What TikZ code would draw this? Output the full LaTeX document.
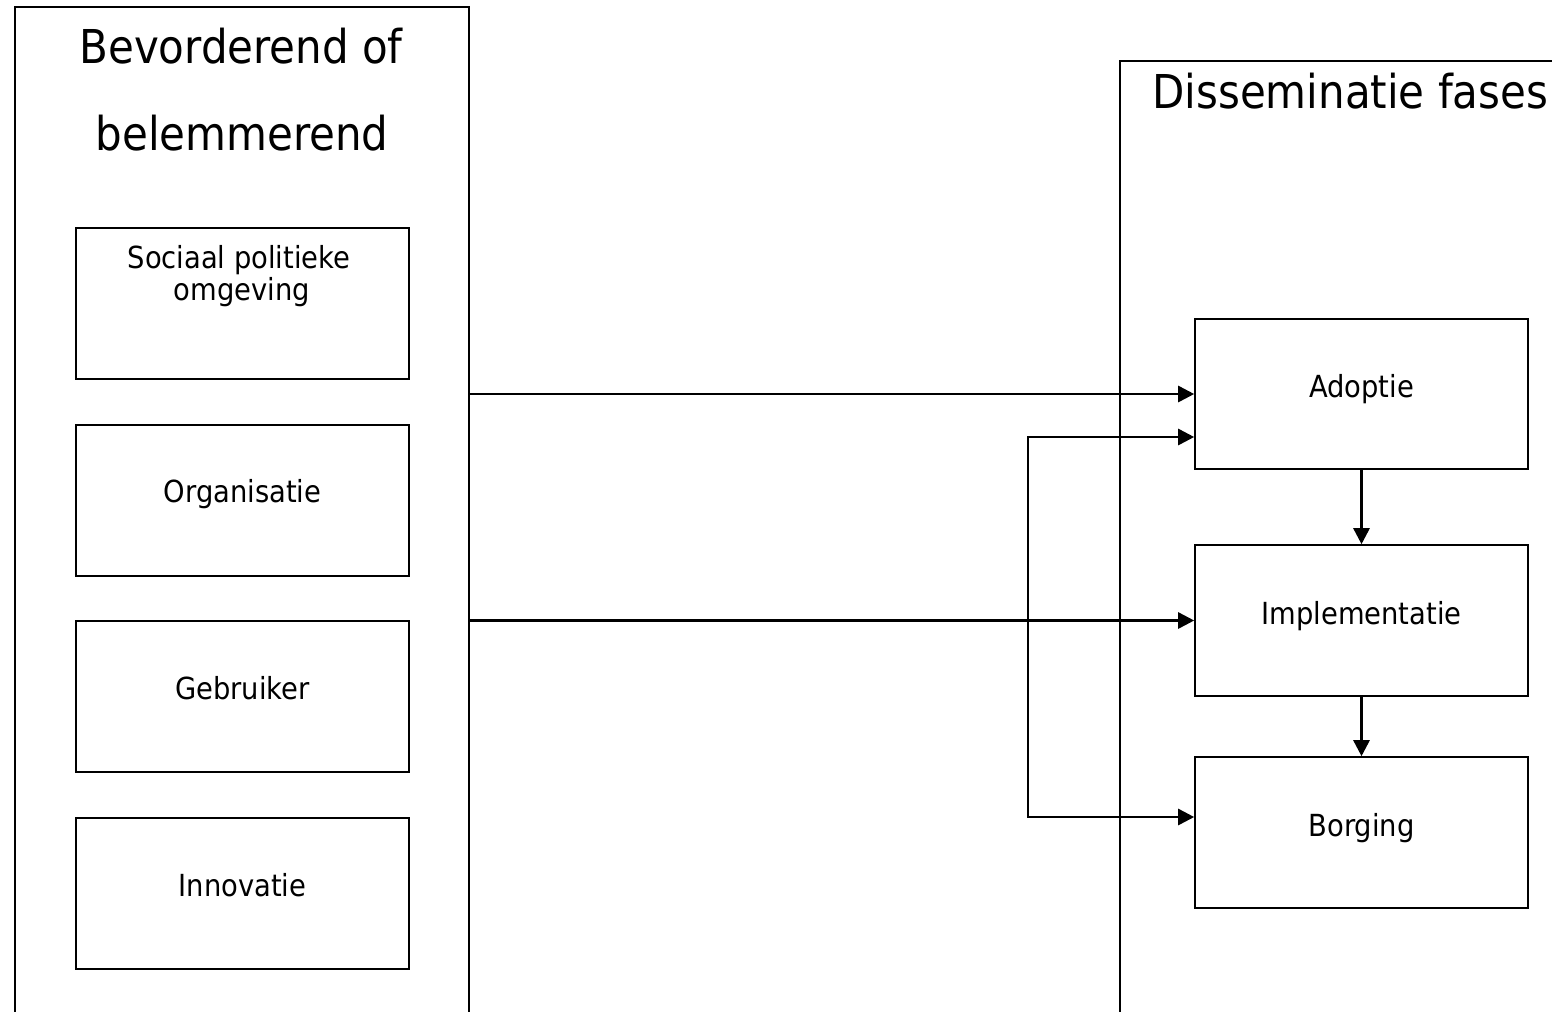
\documentclass[tikz,border=0pt]{standalone}
\usepackage{fontspec}
\setmainfont{DejaVu Sans Condensed}
\usetikzlibrary{arrows.meta}
\begin{document}
\begin{tikzpicture}[x=0.75pt,y=-0.75pt,
  outer/.style={draw, rectangle, line width=1pt, inner sep=0pt},
  box/.style={draw, rectangle, line width=1.2pt, minimum width=249.75pt, minimum height=113.25pt, inner sep=0pt},
  small/.style={font=\fontsize{22.8}{27}\selectfont, anchor=base, inner sep=0pt},
  big/.style={font=\fontsize{35}{42}\selectfont, anchor=base, inner sep=0pt},
  tip/.tip={Triangle[length=12pt,width=12pt]},
  arr/.style={-tip, line width=2pt}]
\useasboundingbox (0,0) rectangle (1552,1011);
\clip (0,0) rectangle (1552,1011);
% outer frames (open beyond the picture edges)
\node[outer, minimum width=340.5pt, minimum height=774.75pt] (leftframe) at (242,523.5) {};
\node[outer, minimum width=345pt, minimum height=734.25pt] (rightframe) at (1350,550.5) {};
\node[big] (t1) at (241,63) {Bevorderend of};
\node[big] (t2) at (242,150) {belemmerend};
\node[big, anchor=base west] (t3) at (1152,108) {Disseminatie fases};
% left boxes
\node[box] (soc) at (242.5,303.5) {};
\node[box] (org) at (242.5,500.5) {};
\node[box] (geb) at (242.5,696.5) {};
\node[box] (inn) at (242.5,893.5) {};
\node[small] (socA) at (239,268) {Sociaal politieke};
\node[small] (socB) at (242,300) {omgeving};
\node[small] (orgT) at (242.5,502) {Organisatie};
\node[small] (gebT) at (242.5,699) {Gebruiker};
\node[small] (innT) at (242.5,896) {Innovatie};
% right boxes
\node[box, minimum height=112.5pt] (adopt) at (1361.5,394) {};
\node[box] (impl) at (1361.5,620.5) {};
\node[box] (borg) at (1361.5,832.5) {};
\node[small] (adoptT) at (1361.5,397) {Adoptie};
\node[small] (implT) at (1361.5,624) {Implementatie};
\node[small] (borgT) at (1361.5,836) {Borging};
% connectors
\draw[arr] (leftframe.east |- adopt.west) -- (adopt.west);
\draw[arr] (leftframe.east |- impl.west) -- (impl.west);
\coordinate (bk1) at (1028,437);
\coordinate (bk2) at (1028,817);
\draw[tip-tip, line width=2pt] (adopt.west |- bk1) -- (bk1) -- (bk2) -- (borg.west |- bk2);
\draw[arr] (adopt.south) -- (impl.north);
\draw[arr] (impl.south) -- (borg.north);
\end{tikzpicture}
\end{document}
